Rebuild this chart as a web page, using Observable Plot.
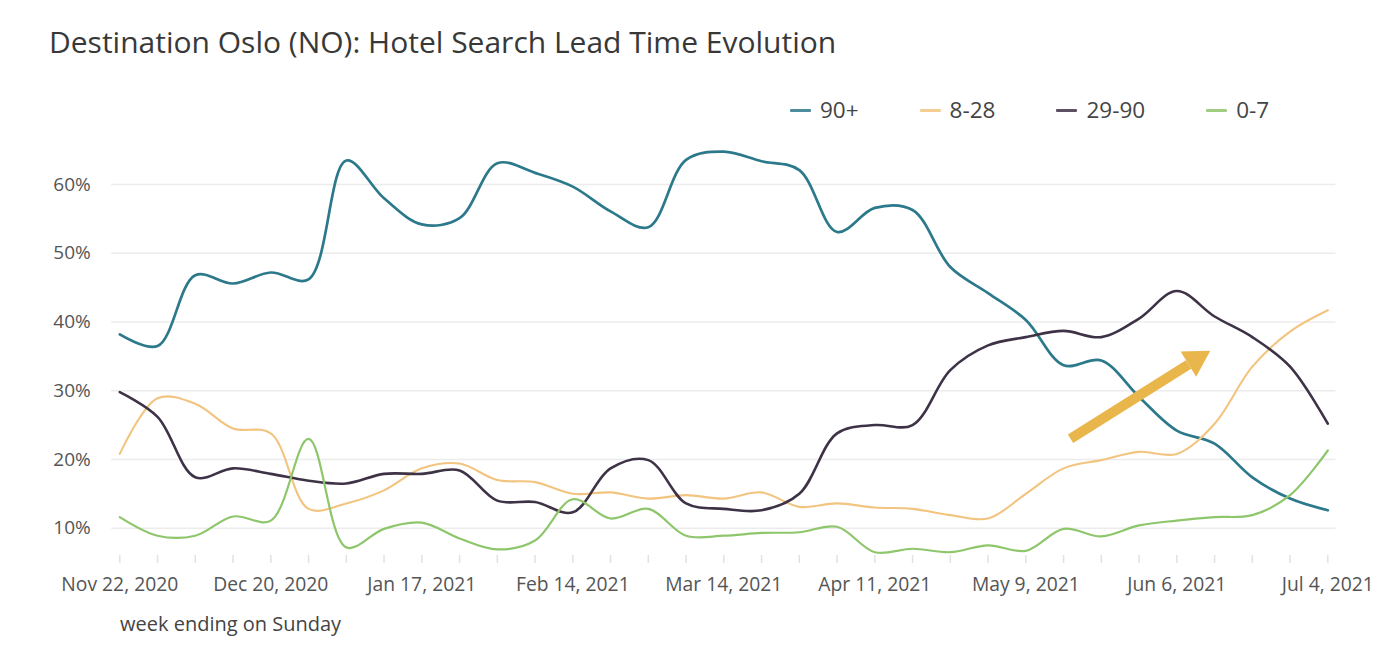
<!DOCTYPE html>
<html>
<head>
<meta charset="utf-8">
<script src="https://cdn.jsdelivr.net/npm/d3@7"></script>
<script src="https://cdn.jsdelivr.net/npm/@observablehq/plot@0.6"></script>
<style>
  html, body { margin: 0; padding: 0; background: #fff; }
  #wrap { position: relative; width: 1400px; height: 651px; overflow: hidden; font-family: "Open Sans", sans-serif; }
  #title { position: absolute; left: 49px; top: 27px; margin: 0; font-size: 30px; line-height: 30px; font-weight: 400; color: #383838; white-space: nowrap; z-index: 2; }
  #legend { position: absolute; left: 790px; top: 98px; display: flex; gap: 61px; z-index: 2; }
  .item { display: flex; align-items: center; font-size: 22.5px; line-height: 24px; color: #444; }
  .sw { width: 21px; height: 3px; margin-right: 9px; border-radius: 1px; }
  #chart { position: absolute; left: 0; top: 80px; z-index: 1; }
  #xlabel { position: absolute; left: 120px; top: 614px; font-size: 20px; line-height: 20px; color: #444; white-space: nowrap; }
  svg g[aria-label="annotation arrow"] { filter: drop-shadow(2px 3px 3px rgba(0,0,0,0.35)); }
</style>
</head>
<body>
<div id="wrap">
  <h1 id="title">Destination Oslo (NO): Hotel Search Lead Time Evolution</h1>
  <div id="legend"></div>
  <div id="chart"></div>
  <div id="xlabel">week ending on Sunday</div>
</div>
<script>
// ---- data ----
const weeks = [
  "2020-11-22","2020-11-29","2020-12-06","2020-12-13","2020-12-20","2020-12-27",
  "2021-01-03","2021-01-10","2021-01-17","2021-01-24","2021-01-31","2021-02-07",
  "2021-02-14","2021-02-21","2021-02-28","2021-03-07","2021-03-14","2021-03-21",
  "2021-03-28","2021-04-04","2021-04-11","2021-04-18","2021-04-25","2021-05-02",
  "2021-05-09","2021-05-16","2021-05-23","2021-05-30","2021-06-06","2021-06-13",
  "2021-06-20","2021-06-27","2021-07-04"
];
const labelWeeks = ["2020-11-22","2020-12-20","2021-01-17","2021-02-14","2021-03-14","2021-04-11","2021-05-09","2021-06-06","2021-07-04"];
const yTicks = [10, 20, 30, 40, 50, 60];

const seriesNames = ["90+", "8-28", "29-90", "0-7"];
const seriesColors = ["#2c798b", "#f2c47f", "#3e3246", "#8ec66c"];

const v90 = [38.2, 36.5, 46.8, 45.6, 47.2, 46.2, 63.5, 58.0, 54.2, 55.1, 63.1, 61.7, 59.7, 56.1, 53.8, 63.6, 64.8,
             63.4, 62.1, 53.1, 56.6, 56.3, 48.0, 44.2, 40.3, 33.7, 34.4, 29.1, 24.2, 22.3, 17.4, 14.3, 12.6];
const v828 = [20.8, 28.9, 28.1, 24.5, 23.8, 12.8, 13.6, 15.5, 18.7, 19.4, 17.0, 16.7, 15.0, 15.2, 14.3, 14.8, 14.3,
              15.2, 13.1, 13.6, 13.0, 12.8, 11.9, 11.4, 15.0, 18.7, 19.9, 21.1, 20.8, 25.2, 33.5, 38.6, 41.7];
const v2990 = [29.8, 26.2, 17.4, 18.7, 17.9, 16.9, 16.5, 17.9, 17.9, 18.4, 14.0, 13.8, 12.3, 18.7, 19.9, 13.6, 12.8,
               12.6, 15.0, 23.8, 25.0, 25.0, 33.0, 36.6, 37.8, 38.7, 37.8, 40.5, 44.5, 40.8, 37.8, 33.5, 25.2];
const v07 = [11.6, 8.9, 8.9, 11.7, 11.1, 23.0, 7.2, 9.9, 10.8, 8.5, 6.9, 8.2, 14.2, 11.4, 12.8, 8.9, 8.9,
             9.3, 9.4, 10.2, 6.5, 7.0, 6.5, 7.5, 6.7, 9.9, 8.8, 10.4, 11.1, 11.6, 11.9, 14.8, 21.3];

// annotation arrow (data units): tail, base of head, tip
const arrowTail = {date: "2021-05-17T07:00:00Z", value: 23.0};
const arrowBase = {date: "2021-06-08T04:00:00Z", value: 33.8};
const arrowTip  = {date: "2021-06-12T05:00:00Z", value: 35.8};

// ---- build ----
const dates = weeks.map(d => new Date(d + "T00:00:00Z"));
const labelDates = labelWeeks.map(d => new Date(d + "T00:00:00Z"));
const seriesValues = [v90, v828, v2990, v07];
const widths = [2.7, 2.1, 2.6, 2.2];
const rows = seriesNames.flatMap((s, k) => seriesValues[k].map((v, i) => ({series: s, date: dates[i], value: v})));

const fmt = d3.utcFormat("%b %-d, %Y");

const plot = Plot.plot({
  width: 1400,
  height: 520,
  marginTop: 69.7,
  marginBottom: 38,
  marginLeft: 111.2,
  marginRight: 64.6,
  x: {type: "utc", domain: [new Date("2020-11-20T12:00:00Z"), new Date("2021-07-05T12:00:00Z")]},
  y: {domain: [5, 65]},
  style: {fontFamily: "Open Sans, sans-serif", fontSize: "19px", color: "#555", background: "transparent", overflow: "visible"},
  marks: [
    Plot.gridY(yTicks, {stroke: "#ececec", strokeOpacity: 1, strokeWidth: 1.5}),
    Plot.axisY(yTicks, {tickSize: 0, tickPadding: 21, tickFormat: d => d + "%", label: null, fontSize: 19}),
    Plot.axisX(dates, {tickSize: 8, dy: -7, stroke: "#e2e2e2", strokeWidth: 1.5, tickFormat: () => "", label: null}),
    Plot.axisX(labelDates, {tickSize: 0, tickPadding: 15, tickFormat: fmt, label: null, fontSize: 19.3}),
    ...seriesNames.map((s, k) => Plot.line(rows.filter(r => r.series === s), {
      x: "date", y: "value", stroke: seriesColors[k], strokeWidth: widths[k], curve: "catmull-rom"
    })),
    Plot.link([{a: arrowTail, b: arrowBase}], {
      x1: d => new Date(d.a.date), y1: d => d.a.value,
      x2: d => new Date(d.b.date), y2: d => d.b.value,
      stroke: "#e8b64a", strokeWidth: 10, strokeLinecap: "butt", ariaLabel: "annotation arrow"
    }),
    Plot.dot([arrowTip], {
      x: d => new Date(d.date), y: "value", symbol: "triangle", r: 11, rotate: 58.4,
      dx: -14.6, dy: 8.9, fill: "#e8b64a", stroke: "none", ariaLabel: "annotation arrow"
    })
  ]
});
document.getElementById("chart").appendChild(plot);

// legend
const legend = document.getElementById("legend");
seriesNames.forEach((s, k) => {
  const item = document.createElement("div");
  item.className = "item";
  const sw = document.createElement("span");
  sw.className = "sw";
  sw.style.background = seriesColors[k];
  sw.style.opacity = 0.85;
  const t = document.createElement("span");
  t.textContent = s;
  item.appendChild(sw);
  item.appendChild(t);
  legend.appendChild(item);
});
</script>
</body>
</html>
